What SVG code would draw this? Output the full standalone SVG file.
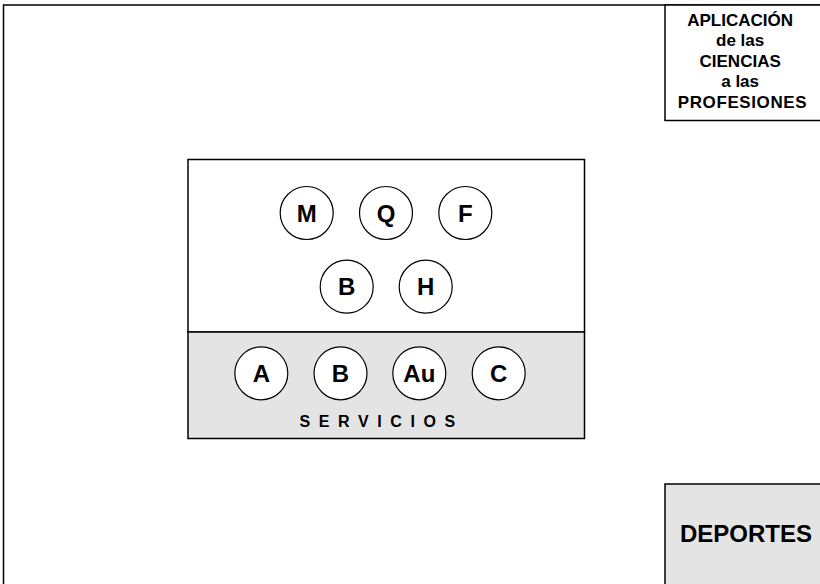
<svg xmlns="http://www.w3.org/2000/svg" width="820" height="584" viewBox="0 0 820 584">
<style>
.ln{fill:none;stroke:#000;stroke-width:1.5}
.c{fill:#fff;stroke:#000;stroke-width:1.2}
.t{font-family:"Liberation Sans",Arial,Helvetica,sans-serif;font-weight:bold;fill:#000}
.cl{font-size:24px;text-anchor:middle}
</style>
<rect width="820" height="584" fill="#fff"/>
<g id="frame">
<path class="ln" d="M3.5,590 V5 H830"/>
</g>
<g id="aplicacion">
<rect x="665" y="5" width="170" height="115.5" fill="#fff" stroke="#000" stroke-width="1.5"/>
<text class="t" font-size="17" text-anchor="middle">
<tspan x="742.5" y="25.5">APLICACIÓN</tspan>
<tspan x="742.5" y="46">de las</tspan>
<tspan x="742.5" y="66.5">CIENCIAS</tspan>
<tspan x="742.5" y="87">a las</tspan>
<tspan x="742.5" y="107.5" letter-spacing="0.6">PROFESIONES</tspan>
</text>
</g>
<g id="deportes">
<rect x="665" y="484" width="170" height="120" fill="#e4e4e4" stroke="#000" stroke-width="1.5"/>
<text class="t" x="746" y="542" font-size="24" text-anchor="middle">DEPORTES</text>
</g>
<g id="main">
<rect x="188" y="159.5" width="396.5" height="172.5" fill="#fff" stroke="#000" stroke-width="1.5"/>
<rect x="188" y="332" width="396.5" height="106.5" fill="#e4e4e4" stroke="#000" stroke-width="1.5"/>
</g>
<g id="M"><circle class="c" cx="306.7" cy="213" r="26.5"/><text class="t cl" x="306.7" y="221.6">M</text></g>
<g id="Q"><circle class="c" cx="386" cy="213" r="26.5"/><text class="t cl" x="386" y="221.6">Q</text></g>
<g id="F"><circle class="c" cx="465.3" cy="213" r="26.5"/><text class="t cl" x="465.3" y="221.6">F</text></g>
<g id="B1"><circle class="c" cx="346.7" cy="286.7" r="26.5"/><text class="t cl" x="346.7" y="295.3">B</text></g>
<g id="H"><circle class="c" cx="425.7" cy="286.7" r="26.5"/><text class="t cl" x="425.7" y="295.3">H</text></g>
<g id="A"><circle class="c" cx="261.3" cy="373.3" r="26.5"/><text class="t cl" x="261.3" y="381.9">A</text></g>
<g id="B2"><circle class="c" cx="340.5" cy="373.3" r="26.5"/><text class="t cl" x="340.5" y="381.9">B</text></g>
<g id="Au"><circle class="c" cx="419.3" cy="373.3" r="26.5"/><text class="t cl" x="419.3" y="381.9">Au</text></g>
<g id="C"><circle class="c" cx="498.7" cy="373.3" r="26.5"/><text class="t cl" x="498.7" y="381.9">C</text></g>
<g id="servicios">
<text class="t" x="299.5" y="426.5" font-size="16" letter-spacing="8.6">SERVICIOS</text>
</g>
<g id="connectors"/>
</svg>
